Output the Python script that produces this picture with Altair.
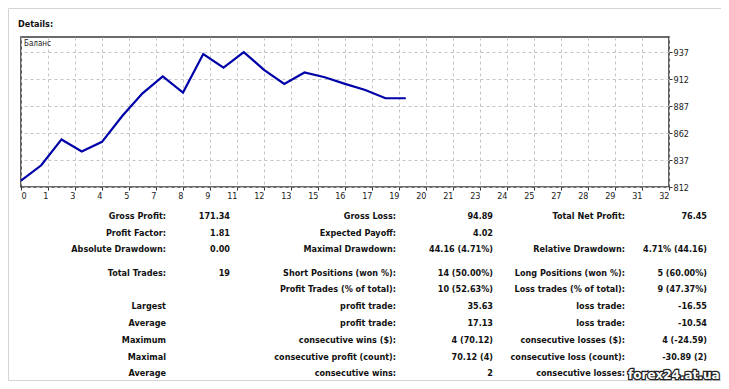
import altair as alt
import pandas as pd

# ---- balance curve ----
trades = list(range(20))
balance = [818.0, 832.2, 856.2, 845.0, 854.0, 878.0, 899.0, 914.8, 899.7, 935.5,
           923.0, 937.4, 920.9, 907.8, 918.4, 914.0, 907.8, 902.2, 894.5, 894.5]
y_ticks = [812, 837, 862, 887, 912, 937]
x_ticks = [i * 4 / 3 for i in range(25)]

# ---- statistics table ----
labels_1 = ["Gross Profit:", "Profit Factor:", "Absolute Drawdown:", "Total Trades:", "",
            "Largest", "Average", "Maximum", "Maximal", "Average"]
values_1 = ["171.34", "1.81", "0.00", "19", "", "", "", "", "", ""]
labels_2 = ["Gross Loss:", "Expected Payoff:", "Maximal Drawdown:", "Short Positions (won %):",
            "Profit Trades (% of total):", "profit trade:", "profit trade:",
            "consecutive wins ($):", "consecutive profit (count):", "consecutive wins:"]
values_2 = ["94.89", "4.02", "44.16 (4.71%)", "14 (50.00%)", "10 (52.63%)", "35.63",
            "17.13", "4 (70.12)", "70.12 (4)", "2"]
labels_3 = ["Total Net Profit:", "", "Relative Drawdown:", "Long Positions (won %):",
            "Loss trades (% of total):", "loss trade:", "loss trade:",
            "consecutive losses ($):", "consecutive loss (count):", "consecutive losses:"]
values_3 = ["76.45", "", "4.71% (44.16)", "5 (60.00%)", "9 (47.37%)", "-16.55",
            "-10.54", "4 (-24.59)", "-30.89 (2)", ""]

FONT = "DejaVu Sans Condensed, DejaVu Sans"

line_df = pd.DataFrame({"trade": trades, "balance": balance})

rows = []
for col, arr in enumerate([labels_1, values_1, labels_2, values_2, labels_3, values_3]):
    for r, t in enumerate(arr):
        if t:
            rows.append({"col": col, "row": r, "text": t})
table_df = pd.DataFrame(rows)

W, H = 648, 150

border = alt.Chart(pd.DataFrame({"k": [0]})).mark_rect(
    filled=False, stroke="#d4d4d4", strokeWidth=1
).encode(x=alt.value(-12.5), x2=alt.value(701.5), y=alt.value(-28.5), y2=alt.value(343.5))

line = alt.Chart(line_df).mark_line(color="#0000a8", strokeWidth=2.2).encode(
    x=alt.X("trade:Q", scale=alt.Scale(domain=[0, 32], nice=False, zero=False),
            axis=alt.Axis(values=x_ticks, labelExpr="round(datum.value)", title=None,
                          grid=True, gridDash=[3, 3], gridColor="#c4c4c4",
                          domain=False, tickSize=3, tickColor="#333",
                          labelAlign={"condition": {"test": "datum.value == 0", "value": "left"},
                                      "value": "right"},
                          labelPadding=1,
                          labelFont=FONT, labelFontSize=9, labelColor="#222")),
    y=alt.Y("balance:Q", scale=alt.Scale(domain=[812, 951.4], nice=False, zero=False),
            axis=alt.Axis(values=y_ticks, orient="right", title=None,
                          grid=True, gridDash=[3, 3], gridColor="#c4c4c4",
                          domain=False, tickSize=3, tickColor="#333",
                          labelPadding=1, labelFont=FONT, labelFontSize=9,
                          labelColor="#222")),
)

caption = alt.Chart(pd.DataFrame({"t": ["Баланс"]})).mark_text(
    align="left", baseline="middle", font=FONT, fontSize=8, color="#222"
).encode(x=alt.value(3), y=alt.value(7), text="t:N")

details = alt.Chart(pd.DataFrame({"t": ["Details:"]})).mark_text(
    align="left", baseline="middle", font=FONT, fontSize=9, fontWeight="bold", color="#111"
).encode(x=alt.value(-3), y=alt.value(-13.5), text="t:N")

table = alt.Chart(table_df).mark_text(
    align="right", baseline="middle", font=FONT, fontSize=9, fontWeight="bold", color="#111"
).encode(
    x=alt.X("col:Q", axis=None,
            scale=alt.Scale(domain=[0, 1, 2, 3, 4, 5], range=[145, 209, 375, 472, 604, 686])),
    y=alt.Y("row:Q", axis=None,
            scale=alt.Scale(domain=[0, 2, 3, 9], range=[178.7, 212.3, 235.7, 336.3])),
    text="text:N",
)

mark_df = pd.DataFrame({"t": ["forex24.at.ua"]})
watermark = alt.Chart(mark_df).mark_text(
    align="left", baseline="middle", font="DejaVu Sans", fontSize=12, fontWeight="bold",
    fill="white", stroke="#222", strokeWidth=2.5
).encode(x=alt.value(607), y=alt.value(338), text="t:N")
watermark_fill = alt.Chart(mark_df).mark_text(
    align="left", baseline="middle", font="DejaVu Sans", fontSize=12, fontWeight="bold",
    color="white"
).encode(x=alt.value(607), y=alt.value(338), text="t:N")

chart = alt.layer(border, line, caption, details, table, watermark, watermark_fill).resolve_scale(
    x="independent", y="independent"
).properties(
    width=W, height=H,
    autosize=alt.AutoSizeParams(type="none"),
    padding={"left": 13, "top": 29, "right": 52, "bottom": 194},
    background="white",
).configure_view(stroke="#3a3a3a", strokeWidth=1.6)

chart.save("out.html", embed_options={"renderer": "svg", "actions": False})
